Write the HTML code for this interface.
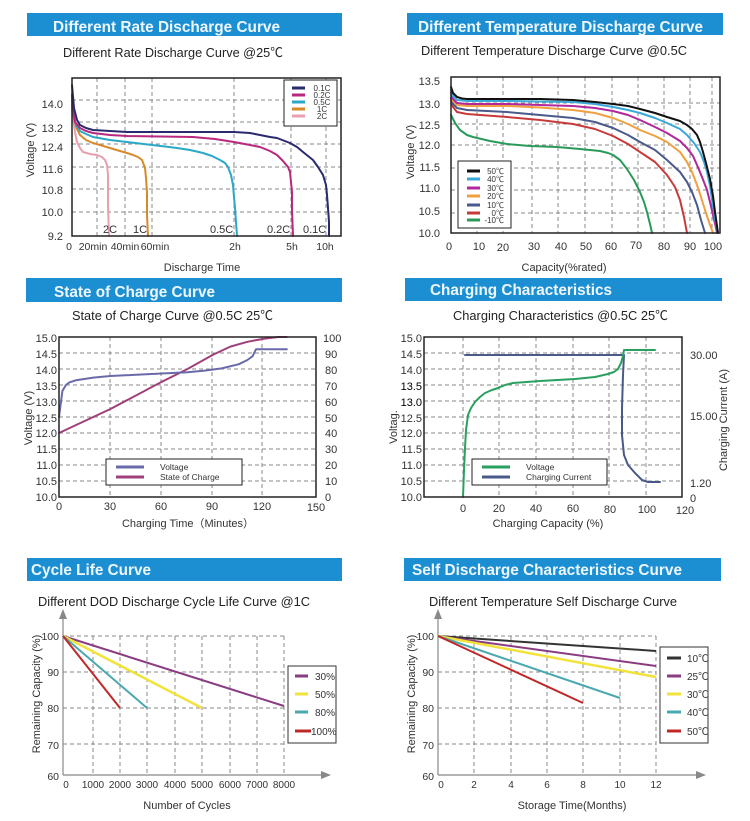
<!DOCTYPE html>
<html><head><meta charset="utf-8"><style>
html,body{margin:0;padding:0;background:#fff;}
svg{display:block;}
text{font-family:"Liberation Sans","Noto Sans CJK SC",sans-serif;fill:#333;}
.bt{font-weight:bold;fill:#eef7ff;}
.st{fill:#222;}
.g{stroke:#8a8a8a;stroke-width:1;stroke-dasharray:4 3;fill:none;}
.c{fill:none;stroke-width:2;stroke-linejoin:round;stroke-linecap:round;}
</style></head><body>
<svg width="750" height="821" viewBox="0 0 750 821" xmlns="http://www.w3.org/2000/svg">
<rect width="750" height="821" fill="#fff"/>

<!-- ============ Chart 1 ============ -->
<rect x="27" y="13" width="315" height="23" fill="#1b8fd2"/>
<text class="bt" x="53" y="32" font-size="15.5" textLength="227" lengthAdjust="spacingAndGlyphs">Different Rate Discharge Curve</text>
<text class="st" x="63" y="57" font-size="13" textLength="220" lengthAdjust="spacingAndGlyphs">Different Rate Discharge Curve @25℃</text>
<g>
<path class="g" d="M72 100H341M72 122H341M72 144H341M72 167H341M72 189H341M72 212H341M97 78V236M125 78V236M152 78V236M234 78V236M291 78V236M326 78V236"/>
<polyline class="c" stroke="#e8a0b0" points="72,108 73,118 75,132 77,142 80,148 83,152 90,154 97,155 102,157 105,160 107,165 108,175 108,185 108,205 109,236"/>
<polyline class="c" stroke="#d88a2a" points="72,105 73,115 76,127 80,135 86,140 93,143 100,145 110,148 120,151 127,153 133,155 138,157 142,160 145,168 146,178 147,192 147,215 148,236"/>
<polyline class="c" stroke="#2aa8c8" points="72,100 73,112 76,125 80,131 86,134 93,137 110,140 127,142 152,145 165,146.5 177,148 190,150 203,153 212,156 220,160 225,163 228,167 231,175 233,185 234,197 235,208 236,222 237,236"/>
<polyline class="c" stroke="#b8287e" points="72,95 73,110 75,122 80,128 86,131 93,133 110,135 127,136 160,136.5 193,137 215,139 234,142 250,145 260,147 270,151 277,155 283,161 288,167 290,172 291,182 292,192 292,210 293,236"/>
<polyline class="c" stroke="#2a2a6e" points="72,85 74,108 77,120 80,125 86,128 93,130 110,131 127,132 180,132 234,132 250,133 260,135 270,137 277,138 290,143 297,147 303,152 308,156 313,160 318,167 323,175 326,185 327,195 328,208 329,222 329,236"/>
<rect x="72" y="78" width="269" height="158" fill="none" stroke="#222" stroke-width="1.5"/>
<rect x="284" y="80" width="53" height="46" fill="#fff" stroke="#222" stroke-width="1"/>
<g stroke-width="3">
<line x1="292" y1="88" x2="305" y2="88" stroke="#2a2a6e"/>
<line x1="292" y1="95" x2="305" y2="95" stroke="#b8287e"/>
<line x1="292" y1="102" x2="305" y2="102" stroke="#2aa8c8"/>
<line x1="292" y1="109" x2="305" y2="109" stroke="#d88a2a"/>
<line x1="292" y1="116" x2="305" y2="116" stroke="#e8a0b0"/>
</g>
<g font-size="8" text-anchor="middle">
<text x="322" y="91">0.1C</text><text x="322" y="98">0.2C</text><text x="322" y="105">0.5C</text><text x="322" y="112">1C</text><text x="322" y="119">2C</text>
</g>
<g font-size="11" text-anchor="end">
<text x="63" y="108">14.0</text><text x="63" y="132">13.2</text><text x="63" y="151">12.4</text><text x="63" y="173">11.6</text><text x="63" y="194">10.8</text><text x="63" y="216">10.0</text><text x="63" y="240">9.2</text>
</g>
<g font-size="11">
<text x="103" y="233">2C</text><text x="133" y="233">1C</text><text x="210" y="233">0.5C</text><text x="267" y="233">0.2C</text><text x="303" y="233">0.1C</text>
</g>
<g font-size="10.5" text-anchor="middle">
<text x="69" y="250">0</text><text x="93" y="250">20min</text><text x="125" y="250">40min</text><text x="155" y="250">60min</text><text x="235" y="250">2h</text><text x="292" y="250">5h</text><text x="325" y="250">10h</text>
</g>
<g font-size="11" text-anchor="middle">
<text x="202" y="271">Discharge Time</text>
<text x="0" y="0" transform="translate(34 150) rotate(-90)">Voltage (V)</text>
</g>
</g>

<!-- ============ Chart 2 ============ -->
<rect x="407" y="13" width="316" height="22" fill="#1b8fd2"/>
<text class="bt" x="418" y="32" font-size="15.5" textLength="285" lengthAdjust="spacingAndGlyphs">Different Temperature Discharge Curve</text>
<text class="st" x="421" y="55" font-size="13" textLength="266" lengthAdjust="spacingAndGlyphs">Different Temperature Discharge Curve @0.5C</text>
<g>
<path class="g" d="M451 103H720M451 124H720M451 145H720M451 168H720M451 190H720M451 213H720M477 77V233M503 77V233M532 77V233M558 77V233M585 77V233M612 77V233M638 77V233M664 77V233M690 77V233M712 77V233"/>
<polyline class="c" stroke="#2a9a5a" points="451,115 455,123 460,130 467,135 473,137 490,141 507,144 530,146 557,147 580,149 600,151 608,153 613,155 620,160 627,169 634,180 640,192 644,202 647,212 650,224 652,233"/>
<polyline class="c" stroke="#c83a3a" points="451,100 453,107 457,112 467,114 507,117 540,120 573,124 595,129 613,136 628,144 640,152 655,162 667,175 675,187 680,200 684,217 687,233"/>
<polyline class="c" stroke="#4a5a8a" points="451,98 453,104 457,108 467,110 507,112 540,115 573,118 595,122 613,128 628,135 640,142 655,150 667,160 680,172 687,182 692,192 697,205 701,220 705,233"/>
<polyline class="c" stroke="#f0a040" points="451,95 453,101 457,105 467,106 507,106 540,107.5 573,110 595,113 613,118 628,124 640,130 655,136 667,142 680,152 687,162 692,172 697,185 701,197 705,210 709,222 713,233"/>
<polyline class="c" stroke="#b0289a" points="451,93 453,99 457,103 467,104 507,104 540,105 573,106 595,108 613,111 628,115 640,120 655,127 667,133 680,141 687,148 693,156 697,165 702,177 707,190 710,202 713,215 716,228 717,233"/>
<polyline class="c" stroke="#3aa8d8" points="451,90 453,96 457,100 467,101 507,101 540,101.5 573,102 595,104 613,107 628,110 640,113 655,118 667,123 680,129 687,135 694,143 700,152 704,162 707,172 710,186 712,200 715,218 718,233"/>
<polyline class="c" stroke="#111" points="451,87 453,93 457,97 462,98.5 467,99 490,99 507,99 540,99 573,100 595,102 613,104 628,106 640,109 655,113 667,117 680,121 687,125 692,129 697,135 700,142 703,152 706,163 710,179 713,196 715,212 718,233"/>
<rect x="451" y="77" width="269" height="156" fill="none" stroke="#222" stroke-width="1.5"/>
<rect x="458" y="161" width="53" height="67" fill="#fff" stroke="#222" stroke-width="1"/>
<g stroke-width="3">
<line x1="467" y1="171" x2="480" y2="171" stroke="#111"/>
<line x1="467" y1="179" x2="480" y2="179" stroke="#3aa8d8"/>
<line x1="467" y1="188" x2="480" y2="188" stroke="#b0289a"/>
<line x1="467" y1="196" x2="480" y2="196" stroke="#f0a040"/>
<line x1="467" y1="205" x2="480" y2="205" stroke="#4a5a8a"/>
<line x1="467" y1="213" x2="480" y2="213" stroke="#c83a3a"/>
<line x1="467" y1="220" x2="480" y2="220" stroke="#2a9a5a"/>
</g>
<g font-size="8" text-anchor="end">
<text x="504" y="174">50℃</text><text x="504" y="182">40℃</text><text x="504" y="191">30℃</text><text x="504" y="199">20℃</text><text x="504" y="208">10℃</text><text x="504" y="216">0℃</text><text x="504" y="223">-10℃</text>
</g>
<g font-size="11" text-anchor="end">
<text x="440" y="85">13.5</text><text x="440" y="108">13.0</text><text x="440" y="129">12.5</text><text x="440" y="149">12.0</text><text x="440" y="171">11.5</text><text x="440" y="192">11.0</text><text x="440" y="215">10.5</text><text x="440" y="237">10.0</text>
</g>
<g font-size="11" text-anchor="middle">
<text x="449" y="250">0</text><text x="479" y="250">10</text><text x="503" y="251">20</text><text x="534" y="250">30</text><text x="561" y="250">40</text><text x="586" y="250">50</text><text x="611" y="250">60</text><text x="636" y="249">70</text><text x="664" y="250">80</text><text x="690" y="250">90</text><text x="713" y="250">100</text>
<text x="564" y="271">Capacity(%rated)</text>
<text x="0" y="0" transform="translate(414 152) rotate(-90)">Voltage (V)</text>
</g>
</g>

<!-- ============ Chart 3 ============ -->
<rect x="26" y="278" width="316" height="24" fill="#1b8fd2"/>
<text class="bt" x="54" y="297" font-size="15.5" textLength="161" lengthAdjust="spacingAndGlyphs">State of Charge Curve</text>
<text class="st" x="72" y="320" font-size="13" textLength="201" lengthAdjust="spacingAndGlyphs">State of Charge Curve @0.5C 25℃</text>
<g>
<path class="g" d="M59 353H316M59 369H316M59 385H316M59 401H316M59 417H316M59 433H316M59 449H316M59 465H316M59 481H316M110 337V497M161 337V497M212 337V497M262 337V497"/>
<polyline class="c" stroke="#a0407a" points="59,433 110.4,409 161.8,381.8 187.5,369 213.2,354.6 230.3,346.6 247.4,341.8 264.6,338.6 278.3,337 286.8,337"/>
<polyline class="c" stroke="#6a6aaa" points="59,417 60.7,404 62.4,391 65.9,385 69.3,382.4 76.1,380.2 93.3,377.6 110.4,376 136.1,374.8 161.8,373.5 187.5,372.2 204.6,370.6 221.7,368.4 238.9,364.2 247.4,360 252.6,356.2 256,349.2 286.8,349.2"/>
<rect x="59" y="337" width="257" height="160" fill="none" stroke="#222" stroke-width="1.5"/>
<rect x="106" y="459" width="136" height="26" fill="#fff" stroke="#222" stroke-width="1"/>
<line x1="116" y1="467" x2="144" y2="467" stroke="#6a6aaa" stroke-width="3"/>
<line x1="116" y1="477" x2="144" y2="477" stroke="#a0407a" stroke-width="3"/>
<g font-size="8.5"><text x="160" y="470">Voltage</text><text x="160" y="480">State of Charge</text></g>
<g font-size="11" text-anchor="end">
<text x="57" y="342">15.0</text><text x="57" y="358">14.5</text><text x="57" y="374">14.0</text><text x="57" y="390">13.5</text><text x="57" y="406">13.0</text><text x="57" y="422">12.5</text><text x="57" y="437">12.0</text><text x="57" y="453">11.5</text><text x="57" y="469">11.0</text><text x="57" y="485">10.5</text><text x="57" y="501">10.0</text>
</g>
<g font-size="11">
<text x="323" y="342">100</text><text x="325" y="358">90</text><text x="325" y="374">80</text><text x="325" y="390">70</text><text x="325" y="406">60</text><text x="325" y="422">50</text><text x="325" y="437">40</text><text x="325" y="453">30</text><text x="325" y="469">20</text><text x="325" y="485">10</text><text x="325" y="501">0</text>
</g>
<g font-size="11" text-anchor="middle">
<text x="59" y="510">0</text><text x="110" y="510">30</text><text x="161" y="510">60</text><text x="212" y="510">90</text><text x="262" y="510">120</text><text x="316" y="511">150</text>
<text x="188" y="527">Charging Time（Minutes）</text>
<text x="0" y="0" transform="translate(32 418) rotate(-90)">Voltage (V)</text>
</g>
</g>

<!-- ============ Chart 4 ============ -->
<rect x="405" y="278" width="317" height="23" fill="#1b8fd2"/>
<text class="bt" x="430" y="295" font-size="15.5" textLength="182" lengthAdjust="spacingAndGlyphs">Charging Characteristics</text>
<text class="st" x="453" y="320" font-size="13" textLength="215" lengthAdjust="spacingAndGlyphs">Charging Characteristics @0.5C 25℃</text>
<g>
<path class="g" d="M424 353H682M424 369H682M424 385H682M424 401H682M424 417H682M424 433H682M424 449H682M424 465H682M424 481H682M463 337V497M499 337V497M536 337V497M573 337V497M609 337V497M646 337V497"/>
<polyline class="c" stroke="#4a5a88" points="465,355 624,355 623,375 622,408 622,435 624,455 628,465 635,473 642,480 648,482 660,482"/>
<polyline class="c" stroke="#2aa060" points="463,497 464,470 465,448 466,430 468,415 471,408 475,402 480,397 485,393 492,390 498,388 505,385 513,383 540,381 575,379 595,377 608,374 614,372 618,369 621,363 623,356 624,350 655,350"/>
<rect x="424" y="337" width="258" height="160" fill="none" stroke="#222" stroke-width="1.5"/>
<rect x="472" y="459" width="135" height="26" fill="#fff" stroke="#222" stroke-width="1"/>
<line x1="482" y1="467" x2="510" y2="467" stroke="#2aa060" stroke-width="3"/>
<line x1="482" y1="477" x2="510" y2="477" stroke="#4a5a88" stroke-width="3"/>
<g font-size="8.5"><text x="526" y="470">Voltage</text><text x="526" y="480">Charging Current</text></g>
<g font-size="11" text-anchor="end">
<text x="422" y="342">15.0</text><text x="422" y="358">14.5</text><text x="422" y="374">14.0</text><text x="422" y="390" style="fill:#000">13.5</text><text x="422" y="406" style="fill:#000">13.0</text><text x="422" y="422">12.5</text><text x="422" y="437">12.0</text><text x="422" y="453">11.5</text><text x="422" y="469">11.0</text><text x="422" y="485">10.5</text><text x="422" y="501">10.0</text>
</g>
<g font-size="11">
<text x="690" y="359">30.00</text><text x="690" y="420">15.00</text><text x="690" y="487">1.20</text><text x="690" y="502">0</text>
</g>
<g font-size="11" text-anchor="middle">
<text x="463" y="512">0</text><text x="499" y="512">20</text><text x="536" y="512">40</text><text x="573" y="512">60</text><text x="610" y="513">80</text><text x="647" y="513">100</text><text x="685" y="514">120</text>
<text x="548" y="527">Charging Capacity (%)</text>
<text x="0" y="0" transform="translate(397 427) rotate(-90)">Voltag.</text>
<text x="0" y="0" transform="translate(727 420) rotate(-90)">Charging Current (A)</text>
</g>
</g>

<!-- ============ Chart 5 ============ -->
<rect x="27" y="558" width="315" height="23" fill="#1b8fd2"/>
<text class="bt" x="31" y="575" font-size="15.5" textLength="120" lengthAdjust="spacingAndGlyphs">Cycle Life Curve</text>
<text class="st" x="38" y="606" font-size="13" textLength="272" lengthAdjust="spacingAndGlyphs">Different DOD Discharge Cycle Life Curve @1C</text>
<g>
<path class="g" d="M63 636H284M63 672H284M63 708H284M63 744H284M93 636V775M120 636V775M147 636V775M175 636V775M202 636V775M230 636V775M257 636V775M284 636V775"/>
<line x1="63" y1="618" x2="63" y2="775" stroke="#888" stroke-width="1.2"/>
<line x1="63" y1="775" x2="324" y2="775" stroke="#888" stroke-width="1.2"/>
<polygon points="63,609 59,619 67,619" fill="#888"/>
<polygon points="331,775 321,771 321,779" fill="#888"/>
<line x1="63" y1="636" x2="284" y2="706" stroke="#8a3c82" stroke-width="2"/>
<line x1="63" y1="636" x2="202" y2="708" stroke="#f2e23a" stroke-width="2.5"/>
<line x1="63" y1="636" x2="147" y2="708" stroke="#4aa8b0" stroke-width="2"/>
<line x1="63" y1="636" x2="120" y2="708" stroke="#c02828" stroke-width="2"/>
<rect x="288" y="666" width="48" height="77" fill="#fff" stroke="#333" stroke-width="1"/>
<g stroke-width="3">
<line x1="295" y1="676" x2="308" y2="676" stroke="#8a3c82"/>
<line x1="295" y1="694" x2="308" y2="694" stroke="#f2e23a"/>
<line x1="295" y1="712" x2="308" y2="712" stroke="#4aa8b0"/>
<line x1="295" y1="731" x2="311" y2="731" stroke="#c02828"/>
</g>
<g font-size="10">
<text x="315" y="680">30%</text><text x="315" y="698">50%</text><text x="315" y="716">80%</text><text x="311" y="735">100%</text>
</g>
<g font-size="10.5" text-anchor="end">
<text x="59" y="640">100</text><text x="59" y="676">90</text><text x="59" y="712">80</text><text x="59" y="749">70</text><text x="59" y="780">60</text>
</g>
<g font-size="10" text-anchor="middle">
<text x="66" y="788">0</text><text x="93" y="788">1000</text><text x="120" y="788">2000</text><text x="147" y="788">3000</text><text x="175" y="788">4000</text><text x="202" y="788">5000</text><text x="230" y="788">6000</text><text x="257" y="788">7000</text><text x="284" y="788">8000</text>
</g>
<g font-size="11" text-anchor="middle">
<text x="187" y="809">Number of Cycles</text>
<text x="0" y="0" transform="translate(40 694) rotate(-90)">Remaining Capacity (%)</text>
</g>
</g>

<!-- ============ Chart 6 ============ -->
<rect x="404" y="558" width="317" height="23" fill="#1b8fd2"/>
<text class="bt" x="412" y="575" font-size="15.5" textLength="270" lengthAdjust="spacingAndGlyphs">Self Discharge Characteristics Curve</text>
<text class="st" x="429" y="606" font-size="13" textLength="248" lengthAdjust="spacingAndGlyphs">Different Temperature Self Discharge Curve</text>
<g>
<path class="g" d="M438 636H656M438 672H656M438 708H656M438 744H656M474 636V775M511 636V775M547 636V775M583 636V775M620 636V775M656 636V775"/>
<line x1="438" y1="618" x2="438" y2="775" stroke="#888" stroke-width="1.2"/>
<line x1="438" y1="775" x2="699" y2="775" stroke="#888" stroke-width="1.2"/>
<polygon points="438,609 434,619 442,619" fill="#888"/>
<polygon points="706,775 696,771 696,779" fill="#888"/>
<line x1="438" y1="636" x2="656" y2="651" stroke="#333" stroke-width="2"/>
<line x1="438" y1="636" x2="656" y2="666" stroke="#8a3c82" stroke-width="2"/>
<line x1="438" y1="636" x2="656" y2="677" stroke="#f2e23a" stroke-width="2.5"/>
<line x1="438" y1="636" x2="620" y2="698" stroke="#4aa8b0" stroke-width="2"/>
<line x1="438" y1="636" x2="583" y2="703" stroke="#c02828" stroke-width="2"/>
<rect x="660" y="647" width="48" height="96" fill="#fff" stroke="#333" stroke-width="1"/>
<g stroke-width="3">
<line x1="667" y1="658" x2="681" y2="658" stroke="#333"/>
<line x1="667" y1="676" x2="681" y2="676" stroke="#8a3c82"/>
<line x1="667" y1="694" x2="681" y2="694" stroke="#f2e23a"/>
<line x1="667" y1="712" x2="681" y2="712" stroke="#4aa8b0"/>
<line x1="667" y1="731" x2="681" y2="731" stroke="#c02828"/>
</g>
<g font-size="10">
<text x="687" y="662">10℃</text><text x="687" y="680">25℃</text><text x="687" y="698">30℃</text><text x="687" y="716">40℃</text><text x="687" y="735">50℃</text>
</g>
<g font-size="10.5" text-anchor="end">
<text x="434" y="640">100</text><text x="434" y="676">90</text><text x="434" y="712">80</text><text x="434" y="749">70</text><text x="434" y="780">60</text>
</g>
<g font-size="10" text-anchor="middle">
<text x="441" y="788">0</text><text x="474" y="788">2</text><text x="511" y="788">4</text><text x="547" y="788">6</text><text x="583" y="788">8</text><text x="620" y="788">10</text><text x="656" y="788">12</text>
</g>
<g font-size="11" text-anchor="middle">
<text x="572" y="809">Storage Time(Months)</text>
<text x="0" y="0" transform="translate(415 694) rotate(-90)">Remaining Capacity (%)</text>
</g>
</g>
</svg>
</body></html>
